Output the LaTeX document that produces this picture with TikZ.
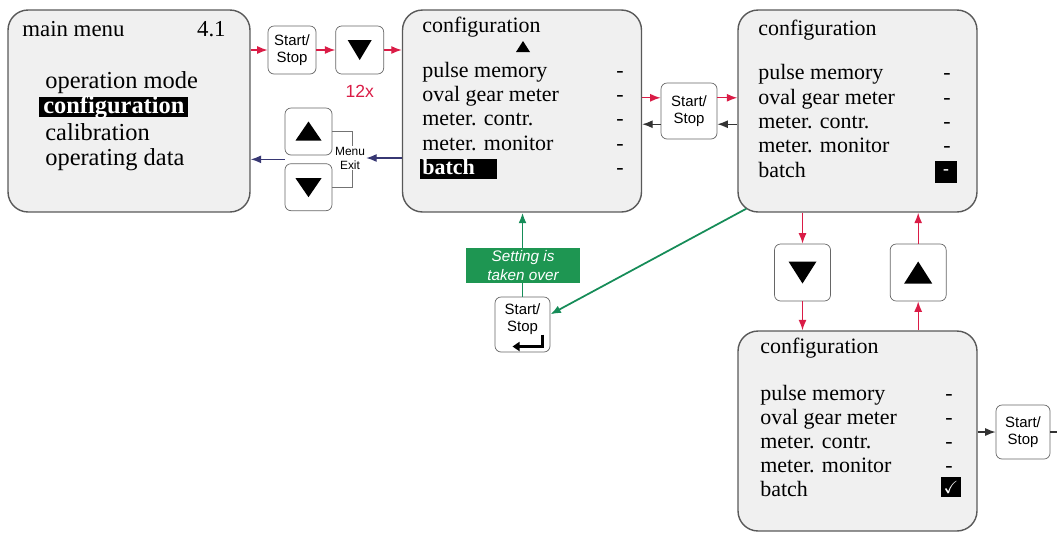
\documentclass[tikz,border=0pt]{standalone}
\usepackage{fontspec}
\setmainfont{Liberation Serif}
\setsansfont{Liberation Sans}
\usepackage{amssymb}
\usepackage{xcolor}
\usetikzlibrary{arrows.meta,positioning,calc}

\definecolor{fwdred}{RGB}{218,28,70}
\definecolor{exitblue}{RGB}{55,55,115}
\definecolor{okgreen}{RGB}{22,140,88}
\definecolor{lblgreen}{RGB}{30,150,82}
\definecolor{screengray}{RGB}{240,240,240}

\begin{document}
\begin{tikzpicture}[x=0.02cm,y=-0.02cm,
screen/.style={draw=black!65,fill=screengray,rounded corners=0.4cm,line width=0.8pt,minimum width=4.78cm,minimum height=4.04cm},
key/.style={draw=black!60,fill=white,rounded corners=0.12cm,align=center,minimum size=0.96cm,inner sep=1pt,font=\sffamily\fontsize{8.5}{9.5}\selectfont},
bigkey/.style={key,minimum size=1.12cm},
entry/.style={anchor=base west,inner sep=0pt,font=\fontsize{12.5}{14}\selectfont},
mainentry/.style={entry,font=\fontsize{13.9}{15}\selectfont},
fwd/.style={-{Latex[length=2.1mm,width=1.6mm]},fwdred,line width=0.75pt},
back/.style={fwd,black!80},
exit/.style={fwd,exitblue},
ok/.style={fwd,okgreen,line width=1pt}
]
\useasboundingbox (0,0) rectangle (1057,532);

\node[screen,minimum width=4.84cm] (main) at (129,111) {};
\node[entry,font=\fontsize{13}{14}\selectfont] (mmtitle) at (22,36) {main menu};
\node[entry,anchor=base east,font=\fontsize{13}{14}\selectfont] (mmver) at (226,36) {4.1};
\node[mainentry] (mm1) at (45,88) {operation mode};
\node[mainentry,fill=black,text=white,inner xsep=0.08cm,text height=8.6pt,text depth=1.6pt,inner ysep=0.4pt] (mm2) at (39,113) {\bfseries configuration};
\node[mainentry] (mm3) at (45,140) {calibration};
\node[mainentry] (mm4) at (45,165) {operating data};

\node[screen] (cfgA) at (522,111) {};
\node[entry] (atitle) at (422,32) {configuration};
\fill (523,41) -- (530,52) -- (516,52) -- cycle;
\foreach \t [count=\i] in {pulse memory,oval gear meter,meter. contr.,meter. monitor}
  \node[entry] (a\i) at (422,52.6+24.4*\i) {\t};
\node[entry,fill=black,text=white,inner xsep=0.04cm,text height=8.4pt,text depth=2pt,inner ysep=0.6pt] (a5) at (420,174.6) {\bfseries\makebox[1.46cm][l]{batch}};
\foreach \i in {1,...,5}
  \node[entry] (ad\i) at (616,52.6+24.4*\i) {-};

\node[screen] (cfgB) at (857.5,111) {};
\node[entry] (btitle) at (758,35) {configuration};
\foreach \t [count=\i] in {pulse memory,oval gear meter,meter. contr.,meter. monitor,batch}
  \node[entry] (b\i) at (758,55.5+24.3*\i) {\t};
\foreach \i in {1,...,4}
  \node[entry] (bd\i) at (943,55.5+24.3*\i) {-};
\node[fill=black,text=white,minimum width=0.44cm,minimum height=0.44cm,inner sep=0pt,font=\bfseries] (bsel) at (946,172) {-};

\node[screen,minimum height=4cm] (cfgC) at (857.5,431) {};
\node[entry] (ctitle) at (760,353) {configuration};
\foreach \t [count=\i] in {pulse memory,oval gear meter,meter. contr.,meter. monitor,batch}
  \node[entry] (c\i) at (760,376+24*\i) {\t};
\foreach \i in {1,...,4}
  \node[entry] (cd\i) at (945,376+24*\i) {-};
\node[fill=black,text=white,minimum width=0.4cm,minimum height=0.4cm,inner sep=0pt] (cchk) at (951,487) {$\checkmark$};

\node[key] (startA) at (292,50) {Start/\\Stop};
\node[key,right=0.38cm of startA] (downA) {};
\fill (downA) ++(-12,-10) -- ++(24,0) -- ++(-12,20) -- cycle;
\node[font=\sffamily\fontsize{10}{12}\selectfont,text=fwdred,below=0.1cm of downA] (rep) {12x};

\node[key,minimum size=0.94cm] (upA) at (308.5,131.5) {};
\fill (upA) ++(-13,9) -- ++(26,0) -- ++(-13,-19) -- cycle;
\node[key,minimum size=0.94cm,below=0.16cm of upA] (dnA) {};
\fill (dnA) ++(-13,-9) -- ++(26,0) -- ++(-13,19) -- cycle;
\draw[black!55] (upA.east) -- ++(20,0) |- (dnA.east);
\node[font=\sffamily\fontsize{6.8}{8}\selectfont,fill=white,inner sep=0.5pt,align=center] (exitlbl) at (350,158) {Menu\\Exit};
\coordinate (gap) at ($(upA.south west)!0.5!(dnA.north west)$);

\node[bigkey] (startB) at (689,111) {Start/\\Stop};

\node[bigkey,minimum height=1.14cm] (downB) at (802.5,272.5) {};
\fill (downB) ++(-14,-11) -- ++(28,0) -- ++(-14,22) -- cycle;
\node[bigkey,minimum height=1.14cm,right=1.18cm of downB] (upB) {};
\fill (upB) ++(-14,11) -- ++(28,0) -- ++(-14,-22) -- cycle;

\node[bigkey,minimum size=1.1cm] (startC) at (522.5,324.5) {Start/\\Stop\\[-2pt]~};
\draw[line width=1.2pt,-{Triangle[length=1.4mm,width=1.8mm]}] ($(startC)+(20,10)$) -- ++(0,12) -- ++(-30,0);

\node[bigkey,minimum size=1.08cm] (startD) at (1023,432) {Start/\\Stop};
\coordinate (off) at (1057,432);

\draw[fwd] (main.east |- startA) -- (startA);
\draw[fwd] (startA) -- (downA);
\draw[fwd] (downA) -- (cfgA.west |- downA);
\draw[exit] (cfgA.west |- exitlbl) -- (exitlbl.east);
\draw[exit] (gap) -- (main.east |- gap);

\draw[fwd] (cfgA.east |- startB.155) -- (startB.155);
\draw[fwd] (startB.25) -- (cfgB.west |- startB.25);
\draw[back] (cfgB.west |- startB.-25) -- (startB.-25);
\draw[back] (startB.205) -- (cfgA.east |- startB.205);

\draw[fwd] (cfgB.south -| downB) -- (downB);
\draw[fwd] (downB) -- (cfgC.north -| downB);
\draw[fwd] (cfgC.north -| upB) -- (upB);
\draw[fwd] (upB) -- (cfgB.south -| upB);

\draw[ok] ($(cfgB.south west)+(9,-4)$) -- (startC.20);
\draw[ok] (startC) -- (cfgA.south -| startC);
\node[fill=lblgreen,text=white,font=\sffamily\itshape\fontsize{8.7}{10.8}\selectfont,minimum width=2.28cm,minimum height=0.7cm,inner sep=0pt,align=center] (taken) at (523,265.5) {Setting is\\taken over};

\draw[back] (cfgC.east |- startD) -- (startD);
\draw[black!80,line width=0.75pt] (startD) -- (off);
\end{tikzpicture}
\end{document}
